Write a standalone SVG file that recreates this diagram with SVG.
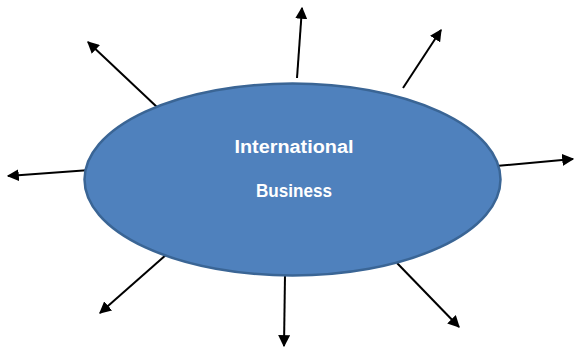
<svg xmlns="http://www.w3.org/2000/svg" width="574" height="348" viewBox="0 0 574 348">
  <style>
    .hub { fill: #4F81BD; stroke: #3A6595; stroke-width: 2.5; }
    .label { font-family: "Liberation Sans", Arial, sans-serif; font-weight: bold; font-size: 18px; fill: #FFFFFF; text-anchor: middle; }
    .spoke { stroke: #000000; stroke-width: 2; fill: none; marker-end: url(#head); }
  </style>
  <defs>
    <marker id="head" viewBox="0 0 10 10" refX="9" refY="5" markerWidth="6" markerHeight="6" markerUnits="strokeWidth" orient="auto">
      <path d="M0,0 L10,5 L0,10 Z" fill="#000000"/>
    </marker>
  </defs>

  <g id="connectors">
    <line class="spoke" x1="297" y1="78" x2="302" y2="8"/>
    <line class="spoke" x1="403" y1="88" x2="441" y2="30"/>
    <line class="spoke" x1="496" y1="166" x2="573" y2="159"/>
    <line class="spoke" x1="397" y1="263" x2="459" y2="327"/>
    <line class="spoke" x1="285" y1="275" x2="284" y2="346"/>
    <line class="spoke" x1="167" y1="254" x2="100" y2="313"/>
    <line class="spoke" x1="90" y1="170" x2="8" y2="176"/>
    <line class="spoke" x1="158" y1="108" x2="88" y2="42"/>
  </g>

  <g id="hub">
    <ellipse class="hub" cx="292.5" cy="179.5" rx="208" ry="96"/>
    <text class="label" x="294" y="153" textLength="119" lengthAdjust="spacingAndGlyphs">International</text>
    <text class="label" x="294" y="197" textLength="76" lengthAdjust="spacingAndGlyphs">Business</text>
  </g>
</svg>
